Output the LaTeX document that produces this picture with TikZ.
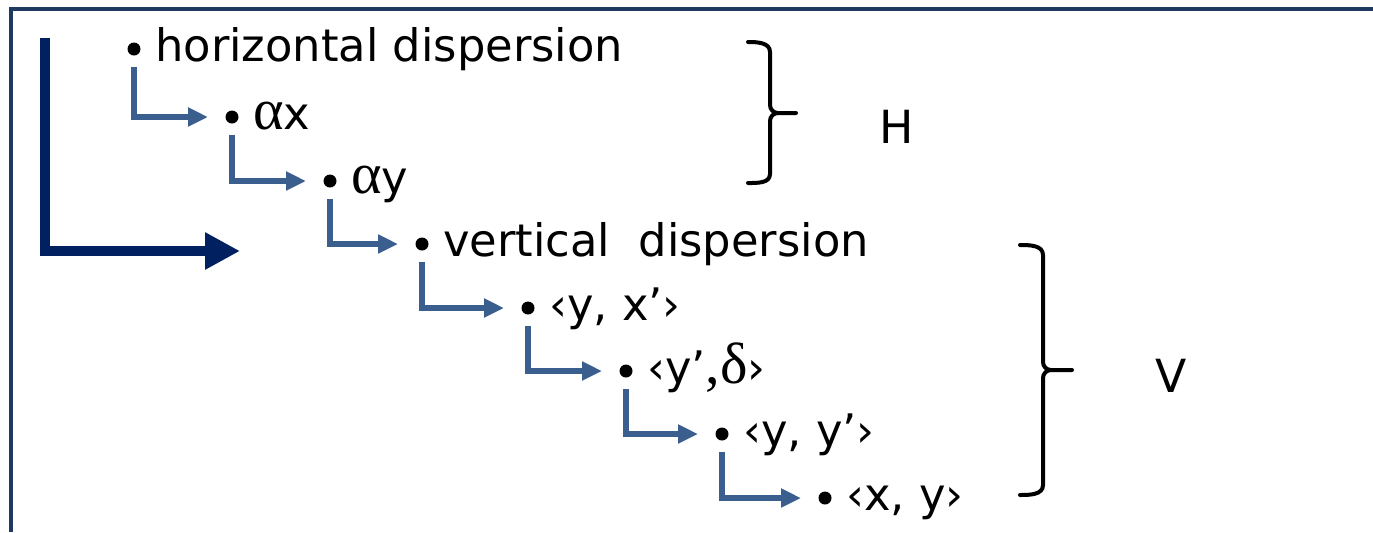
\documentclass[tikz,border=0pt]{standalone}
\usepackage{fontspec}
\setmainfont{DejaVu Sans}
\newfontfamily\grk[Scale=1.3]{Liberation Serif}
\usepackage{xcolor}
\usetikzlibrary{arrows.meta,positioning}
\definecolor{rimcol}{HTML}{1F3A60}
\definecolor{navy}{HTML}{002060}
\definecolor{steel}{HTML}{3A5F8E}

\begin{document}
\begin{tikzpicture}[x=0.02cm, y=-0.02cm, font=\fontsize{25.5}{30}\selectfont, dot/.style={circle, fill, inner sep=0pt, minimum size=0.26cm}, txt/.style={inner sep=0pt, anchor=base west, yshift=-0.24cm}, sub/.style={-{Triangle[length=4mm,width=3.6mm]}, line width=1.2mm, draw=steel}, main/.style={-{Triangle[length=7mm,width=7mm]}, line width=2mm, draw=navy}, brace/.style={line width=0.8mm, line cap=round}, rim/.style={line width=0.8mm, draw=rimcol}, tag/.style={font=\fontsize{26}{31}\selectfont}]
\useasboundingbox (0,0) rectangle (1373,532);
\draw[rim] (11,532) -- (11,9) -- (1373,9);
\node[dot] (b1) at (134,49) {};
\node[dot] (b2) at (232,117) {};
\node[dot] (b3) at (330,181) {};
\node[dot] (b4) at (422,244) {};
\node[dot] (b5) at (528,308) {};
\node[dot] (b6) at (626,371) {};
\node[dot] (b7) at (722,434) {};
\node[dot] (b8) at (825,498) {};
\node[right=0.28cm of b1, txt] (t1) {horizontal dispersion};
\node[right=0.28cm of b2, txt] (t2) {{\grk α}x};
\node[right=0.28cm of b3, txt] (t3) {{\grk α}y};
\node[right=0.28cm of b4, txt] (t4) {vertical\ \ dispersion};
\node[right=0.28cm of b5, txt] (t5) {‹y, x’›};
\node[right=0.28cm of b6, txt] (t6) {‹y’{\grk ,δ}›};
\node[right=0.28cm of b7, txt] (t7) {‹y, y’›};
\node[right=0.28cm of b8, txt] (t8) {‹x, y›};
\draw[sub] ([yshift=-0.23cm]b1.south) |- ([xshift=-0.48cm]b2.center);
\draw[sub] ([yshift=-0.23cm]b2.south) |- ([xshift=-0.48cm]b3.center);
\draw[sub] ([yshift=-0.23cm]b3.south) |- ([xshift=-0.48cm]b4.center);
\draw[sub] ([yshift=-0.23cm]b4.south) |- ([xshift=-0.48cm]b5.center);
\draw[sub] ([yshift=-0.23cm]b5.south) |- ([xshift=-0.48cm]b6.center);
\draw[sub] ([yshift=-0.23cm]b6.south) |- ([xshift=-0.48cm]b7.center);
\draw[sub] ([yshift=-0.23cm]b7.south) |- ([xshift=-0.48cm]b8.center);
\coordinate (start) at (45,38);
\coordinate (goal) at (240,251);
\draw[main] (start) |- (goal);
\draw[brace] (748,42) to[out=0,in=90] (770,52) -- (770,105) to[out=-90,in=180] (778,113) -- (796,113);
\draw[brace] (778,113) to[out=180,in=90] (770,121) -- (770,174) to[out=-90,in=0] (748,183);
\draw[brace] (1020,245) to[out=0,in=90] (1043,255) -- (1043,362) to[out=-90,in=180] (1051,370) -- (1072,370);
\draw[brace] (1051,370) to[out=180,in=90] (1043,378) -- (1043,485) to[out=-90,in=0] (1020,495);
\node[tag] (h) at (897,127) {H};
\node[tag] (v) at (1171,376) {V};
\end{tikzpicture}
\end{document}
